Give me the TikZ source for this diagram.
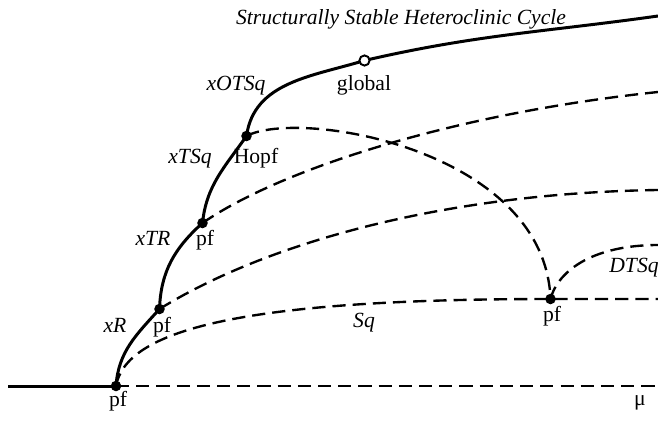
\documentclass[tikz,border=0pt]{standalone}
\usepackage{fontspec}
\setmainfont{Liberation Serif}
\usepackage{tikz}
\usetikzlibrary{calc}

\tikzset{
  stable/.style={line width=1.7pt},
  unstable/.style={line width=1.35pt,dash pattern=on 7.5pt off 4pt},
  bif/.style={circle,fill=black,inner sep=0pt,minimum size=6pt},
  glob/.style={circle,draw=black,fill=white,line width=1.1pt,inner sep=0pt,minimum size=5.8pt},
  txt/.style={anchor=base,inner sep=0pt,font=\fontsize{12.3}{14}\selectfont},
  brn/.style={txt,font=\fontsize{12.3}{14}\selectfont\itshape},
}

\begin{document}
\begin{tikzpicture}[x=0.02cm,y=0.02cm]
\useasboundingbox (0,0) rectangle (658,420);
% bifurcation points
\coordinate (pfA) at (116,34);
\coordinate (pfB) at (159.5,111);
\coordinate (pfC) at (202.5,197);
\coordinate (hopf) at (246.5,284);
\coordinate (glb) at (364.5,359.5);
\coordinate (pfD) at (550.5,121);
% branch ends at the right margin
\coordinate (axL) at (8,34);
\coordinate (axR) at (658,34);
\coordinate (eHC) at (658,404);
\coordinate (eC) at (658,328);
\coordinate (eB) at (658,230);
\coordinate (eD) at (658,175);
\coordinate (eSq) at (658,121);
% stable branches
\draw[stable] (axL) -- (pfA);
\draw[stable] (pfA) to[out=86,in=228] (pfB) to[out=88,in=222] (pfC)
  to[out=84,in=235] (hopf) to[out=82,in=197] (glb) to[out=13,in=188] (eHC);
% unstable branches
\draw[unstable] (pfA) -- (axR);
\draw[unstable] (pfA) .. controls +(10,55) and +(-314.5,0) .. (pfD) -- (eSq);
\draw[unstable] (pfB) .. controls +(110,68) and +(-208.5,-3) .. (eB);
\draw[unstable] (pfC) .. controls +(80,55) and +(-200.5,-21) .. (eC);
\draw[unstable] (hopf) .. controls (300,312) and (545,270) .. (pfD);
\draw[unstable] (pfD) .. controls +(8,30) and +(-62.5,0) .. (eD);
% points
\node[bif] (dA) at (pfA) {};
\node[bif] (dB) at (pfB) {};
\node[bif] (dC) at (pfC) {};
\node[bif] (dH) at (hopf) {};
\node[bif] (dD) at (pfD) {};
\node[glob] (dG) at (glb) {};
% labels
\node[brn] (tHC) at (401,396) {Structurally Stable Heteroclinic Cycle};
\node[brn] (tOTSq) at (236,330) {xOTSq};
\node[txt] (tGlb) at (364,330) {global};
\node[brn] (tTSq) at (190,257) {xTSq};
\node[txt] (tHopf) at (256,257) {Hopf};
\node[brn] (tTR) at (153,175) {xTR};
\node[txt] (tC) at (205,175) {pf};
\node[brn] (tR) at (115,88) {xR};
\node[txt] (tB) at (162,88) {pf};
\node[brn] (tSq) at (364,93) {Sq};
\node[txt] (tD) at (552,99) {pf};
\node[brn] (tDTSq) at (634,148) {DTSq};
\node[txt] (tA) at (118,14) {pf};
\node[txt] (tMu) at (640,15) {μ};
\end{tikzpicture}
\end{document}
